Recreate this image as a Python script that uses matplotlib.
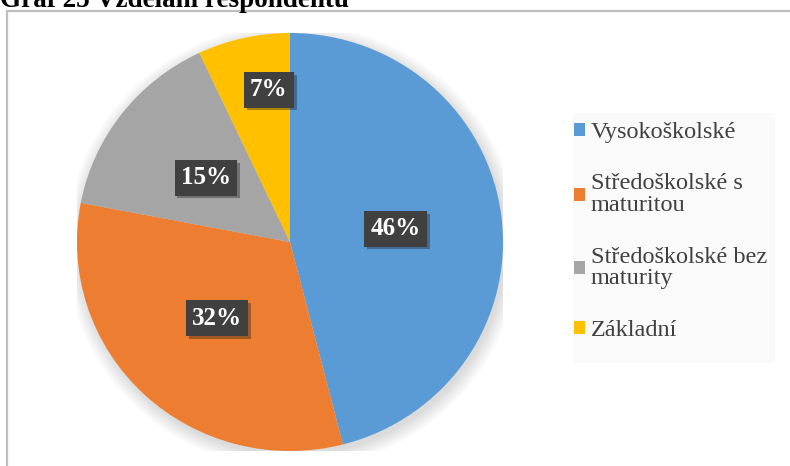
import matplotlib
matplotlib.use("Agg")
import numpy as np
import matplotlib.pyplot as plt
from matplotlib.patches import Patch, Rectangle, Circle
import matplotlib.patheffects as pe

# Data
categories = ["Vysokoškolské", "Středoškolské s\nmaturitou",
              "Středoškolské bez\nmaturity", "Základní"]
shares = [46, 32, 15, 7]
colors = ["#5B9BD5", "#ED7D31", "#A5A5A5", "#FFC000"]
title = "Graf 25 Vzdělání respondentů"

serif = ["Liberation Serif", "DejaVu Serif"]
W, H = 790, 466

fig = plt.figure(figsize=(W / 100, H / 100), dpi=100)
fig.patch.set_facecolor("white")

# Title (partly cut off at the top, as in the source document)
fig.text(0.0, 1 - 7 / H, title, family=serif, fontsize=19.5,
         fontweight="bold", va="baseline", ha="left", color="black")

# Chart frame
fig.patches.append(Rectangle((6.5 / W, -0.1), 2, (H - 10.5) / H + 0.1,
                             transform=fig.transFigure, fill=False,
                             ec="#BFBFBF", lw=1.6, zorder=0))

# Pie axes: centre ~ (290, 242) px, radius ~ 211 px
cx, cy, rx, ry = 290, 242, 213, 209
ax = fig.add_axes([(cx - rx) / W, (H - cy - ry) / H, 2 * rx / W, 2 * ry / H])

# Soft shadow behind the pie
for i in range(12):
    ax.add_patch(Circle((0.012, -0.02), 1.0 + 0.006 * i, color="black",
                        alpha=0.011, lw=0, zorder=0))

wedges, texts, autotexts = ax.pie(
    shares, colors=colors, startangle=90, counterclock=False,
    autopct="%d%%", pctdistance=0.5,
    wedgeprops=dict(linewidth=0),
    textprops=dict(family=serif, fontsize=18, fontweight="bold",
                   color="white"))
ax.set_aspect("auto")
ax.set_xlim(-1, 1)
ax.set_ylim(-1, 1)
for w in wedges:
    w.set_zorder(2)

# Excel "best fit" pushes the smallest label further out
small = autotexts[-1]
w = wedges[-1]
mid = np.deg2rad((w.theta1 + w.theta2) / 2)
small.set_position((0.73 * np.cos(mid) + 0.06, 0.73 * np.sin(mid) + 0.015))

for t in autotexts:
    t.set_zorder(5)
    t.set_bbox(dict(boxstyle="square,pad=0.25", fc="#404040", ec="none"))
    t.get_bbox_patch().set_path_effects(
        [pe.SimplePatchShadow(offset=(2, -2), alpha=0.35), pe.Normal()])

# Legend panel
fig.patches.append(Rectangle((573 / W, 1 - 363 / H), 202 / W, 250 / H,
                             transform=fig.transFigure, fc="#FAFAFA",
                             ec="none", zorder=1))
handles = [Patch(fc=c, ec="none") for c in colors]
leg = fig.legend(handles, categories, loc="upper left",
                 bbox_to_anchor=(574 / W, 1 - 122 / H),
                 frameon=False, prop=dict(family=serif, size=17.5),
                 handlelength=0.45, handleheight=0.45, handletextpad=0.25,
                 labelspacing=1.25, borderaxespad=0, borderpad=0)
for t in leg.get_texts():
    t.set_color("#404040")
    t.set_linespacing(1.05)

fig.savefig("out.png", dpi=100)
